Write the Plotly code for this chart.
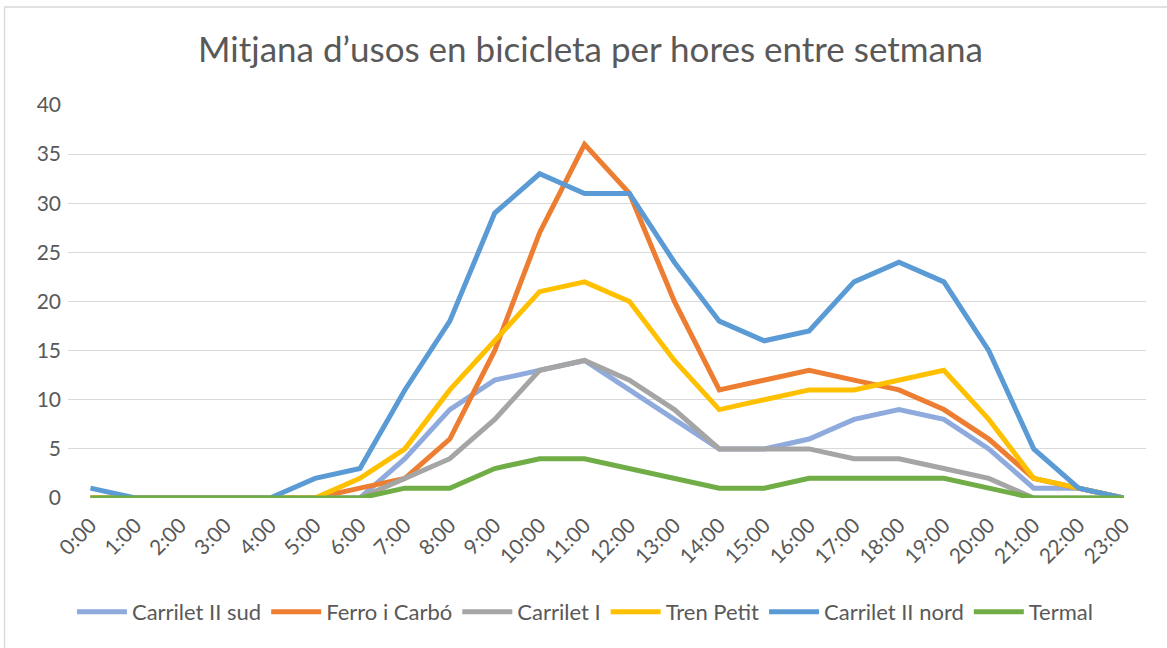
import plotly.graph_objects as go

hours = [f"{h}:00" for h in range(24)]
y_ticks = [0, 5, 10, 15, 20, 25, 30, 35, 40]

carrilet_ii_sud = [0, 0, 0, 0, 0, 0, 0, 4, 9, 12, 13, 14, 11, 8, 5, 5, 6, 8, 9, 8, 5, 1, 1, 0]
ferro_i_carbo = [0, 0, 0, 0, 0, 0, 1, 2, 6, 15, 27, 36, 31, 20, 11, 12, 13, 12, 11, 9, 6, 2, 1, 0]
carrilet_i = [0, 0, 0, 0, 0, 0, 0, 2, 4, 8, 13, 14, 12, 9, 5, 5, 5, 4, 4, 3, 2, 0, 0, 0]
tren_petit = [0, 0, 0, 0, 0, 0, 2, 5, 11, 16, 21, 22, 20, 14, 9, 10, 11, 11, 12, 13, 8, 2, 1, 0]
carrilet_ii_nord = [1, 0, 0, 0, 0, 2, 3, 11, 18, 29, 33, 31, 31, 24, 18, 16, 17, 22, 24, 22, 15, 5, 1, 0]
termal = [0, 0, 0, 0, 0, 0, 0, 1, 1, 3, 4, 4, 3, 2, 1, 1, 2, 2, 2, 2, 1, 0, 0, 0]

series = [
    ("Carrilet II sud", carrilet_ii_sud, "#8faadc"),
    ("Ferro i Carbó", ferro_i_carbo, "#ed7d31"),
    ("Carrilet I", carrilet_i, "#a5a5a5"),
    ("Tren Petit", tren_petit, "#ffc000"),
    ("Carrilet II nord", carrilet_ii_nord, "#5b9bd5"),
    ("Termal", termal, "#70ad47"),
]

FONT = "Lato, 'Open Sans', sans-serif"
fig = go.Figure()
for name, vals, col in series:
    fig.add_trace(go.Scatter(x=hours, y=vals, name=name, mode="lines",
                             line=dict(color=col, width=5)))

W, H = 1167, 648
L, R, T, B = 67.5, 20.5, 105, 150
pw, ph = W - L - R, H - T - B

def px(x):
    return (x - L) / pw

def py(y):
    return (H - B - y) / ph

fig.update_layout(
    width=W, height=H,
    margin=dict(l=L, r=R, t=T, b=B, autoexpand=False),
    paper_bgcolor="white", plot_bgcolor="white",
    font=dict(family=FONT, color="#595959", size=21),
    title=dict(text="Mitjana d’usos en bicicleta per hores entre setmana",
               x=0.506, xanchor="center", y=1 - 50 / H, yanchor="middle",
               font=dict(size=35, color="#595959", family=FONT)),
    xaxis=dict(type="category", range=[-0.5, 23.5], tickangle=-45,
               showgrid=False, zeroline=False, showline=False, ticks="",
               ticklabelstandoff=10,
               tickfont=dict(size=21, color="#595959")),
    yaxis=dict(range=[0, 40], tickvals=y_ticks, showgrid=True,
               gridcolor="#d9d9d9", gridwidth=1.3, zeroline=False, showline=False,
               ticks="", ticklabelstandoff=6,
               tickfont=dict(size=21, color="#595959")),
    legend=dict(orientation="h", x=0.48, xanchor="center",
                y=py(612), yanchor="middle",
                font=dict(size=22, color="#595959"),
                itemwidth=50, tracegroupgap=0),
    shapes=[dict(type="rect", xref="paper", yref="paper",
                 x0=px(4), x1=px(1200), y0=py(700), y1=py(7),
                 line=dict(color="#d9d9d9", width=1.3), layer="below")],
    showlegend=True,
)

fig.write_html("out.html", config={"displayModeBar": False},
               post_script="document.body.style.margin='0';document.body.style.overflow='hidden';")
